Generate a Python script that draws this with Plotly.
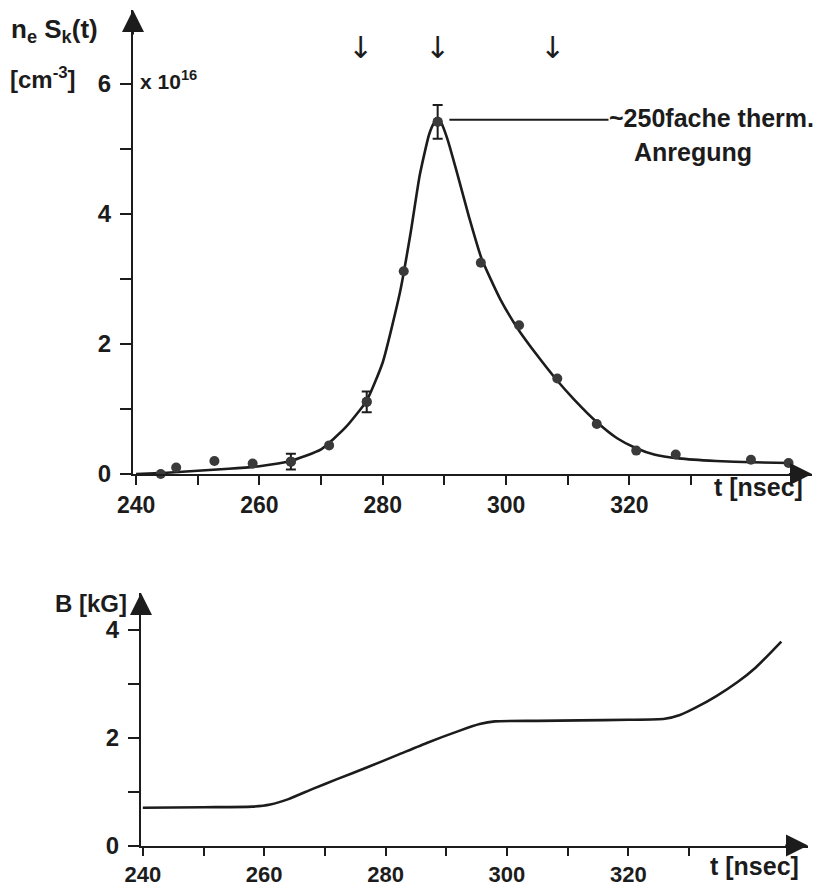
import plotly.graph_objects as go

W, H = 831, 887

# ---------------- data: top panel (n_e S_k(t), units 1e16 cm^-3) ----------------
meas_t = [244.0, 246.5, 252.7, 255.9, 258.9, 265.1, 271.3, 277.4, 283.4, 288.9,
          295.9, 302.1, 308.3, 314.7, 321.1, 327.5, 333.6, 339.7, 345.8]
meas_v = [0.00, 0.10, 0.20, -0.08, 0.16, 0.19, 0.44, 1.11, 3.12, 5.42,
          3.25, 2.29, 1.47, 0.77, 0.36, 0.30, -0.08, 0.22, 0.17]

err_t = [265.1, 277.4, 288.9]
err_v = [0.19, 1.11, 5.42]
err_e = [0.12, 0.16, 0.26]

fit_t = [240, 245, 250, 255, 260, 265, 270, 274, 277.4, 280, 282.8, 284.5, 286,
         287.5, 288.3, 288.9, 289.5, 290.5, 292, 294, 296, 299, 302, 305, 308, 311,
         314.7, 318, 321, 324, 328, 334, 340, 346]
fit_v = [0.0, 0.02, 0.05, 0.08, 0.12, 0.2, 0.38, 0.72, 1.13, 1.72, 2.8, 3.7, 4.6,
         5.22, 5.4, 5.46, 5.4, 5.15, 4.65, 3.95, 3.32, 2.7, 2.22, 1.83, 1.47, 1.15,
         0.8, 0.55, 0.4, 0.3, 0.24, 0.2, 0.18, 0.17]

marker_arrow_t = [276.4, 288.8, 307.5]
peak_label_line_t = [290.8, 316.6]
peak_label_v = 5.45

# ---------------- data: bottom panel (B in kG) ----------------
b_t = [240, 250, 258, 261, 264, 268, 272, 277, 282, 287, 292, 295.5, 298, 305,
       312, 320, 326, 328.5, 331, 334.5, 338, 341, 345.2]
b_v = [0.70, 0.71, 0.72, 0.76, 0.86, 1.05, 1.23, 1.45, 1.68, 1.91, 2.12, 2.25,
       2.30, 2.31, 2.32, 2.33, 2.35, 2.42, 2.55, 2.77, 3.03, 3.30, 3.78]

x_major = [240, 260, 280, 300, 320]
x_minor = [250, 270, 290, 310, 330]
top_y_major = [0, 2, 4, 6]
top_y_minor = [1, 3, 5]
bot_y_major = [0, 2, 4]
bot_y_minor = [1, 3]

# ---------------- styling ----------------
INK = "#1c1c1c"
DOT = "#3a3a3a"
FONT = "Liberation Sans"
FS = 24

TOP_X0, TOP_X1 = 239.5, 349.6
TOP_YMAX = 7.14
BOT_X0, BOT_X1 = 239.7, 349.6
BOT_YMAX = 4.68


def px(x):
    return x / W


def py(y):
    return 1 - y / H


fig = go.Figure()

fig.add_trace(go.Scatter(x=fit_t, y=fit_v, mode="lines", line=dict(color=INK, width=2.6, shape="spline", smoothing=0.5),
                         xaxis="x", yaxis="y", hoverinfo="skip"))
fig.add_trace(go.Scatter(x=meas_t, y=meas_v, mode="markers", marker=dict(color=DOT, size=10),
                         cliponaxis=False, xaxis="x", yaxis="y"))
fig.add_trace(go.Scatter(x=err_t, y=err_v, mode="markers", marker=dict(color=DOT, size=10),
                         error_y=dict(type="data", array=err_e, visible=True, color=INK, thickness=2, width=5),
                         cliponaxis=False, xaxis="x", yaxis="y"))
fig.add_trace(go.Scatter(x=peak_label_line_t, y=[peak_label_v, peak_label_v], mode="lines",
                         line=dict(color=INK, width=2), xaxis="x", yaxis="y"))

fig.add_trace(go.Scatter(x=b_t, y=b_v, mode="lines", line=dict(color=INK, width=2.6, shape="spline", smoothing=0.6),
                         xaxis="x2", yaxis="y2"))


def axis(tickvals, minorvals, ticklen, fontsize, standoff):
    return dict(showgrid=False, zeroline=False, showline=True, linecolor=INK, linewidth=2,
                ticks="outside", tickcolor=INK, tickwidth=2, ticklen=ticklen, automargin=False,
                tickmode="array", tickvals=tickvals, ticklabelstandoff=standoff,
                minor=dict(tickmode="array", tickvals=minorvals, ticks="outside", ticklen=ticklen,
                           tickwidth=2, tickcolor=INK, showgrid=False),
                tickfont=dict(family=FONT, size=fontsize, color=INK, weight="bold"), fixedrange=True)


fig.update_layout(
    width=W, height=H, margin=dict(l=0, r=0, t=0, b=0, autoexpand=False),
    paper_bgcolor="white", plot_bgcolor="white", showlegend=False,
    xaxis=dict(axis(x_major, x_minor, 9, 23, 0), domain=[px(133), px(812)], range=[TOP_X0, TOP_X1], anchor="y"),
    yaxis=dict(axis(top_y_major, top_y_minor, 11, FS, 4), domain=[py(474), py(10)], range=[0, TOP_YMAX], anchor="x"),
    xaxis2=dict(axis(x_major, x_minor, 8, 22, 0), domain=[px(141), px(808)], range=[BOT_X0, BOT_X1], anchor="y2"),
    yaxis2=dict(axis(bot_y_major, bot_y_minor, 11, FS, 4), domain=[py(845.5), py(593)], range=[0, BOT_YMAX], anchor="x2"),
)

ann = []
# axis arrowheads
for xa, ya, x0, x1, ymax in [("x", "y", TOP_X0, TOP_X1, TOP_YMAX), ("x2", "y2", BOT_X0, BOT_X1, BOT_YMAX)]:
    ann.append(dict(x=x1, y=0, ax=x1 - 4, ay=0, xref=xa, yref=ya, axref=xa, ayref=ya, text="",
                    showarrow=True, arrowhead=2, arrowsize=2.2, arrowwidth=2, arrowcolor=INK))
    ann.append(dict(x=x0, y=ymax, ax=x0, ay=ymax - 0.4, xref=xa, yref=ya, axref=xa, ayref=ya, text="",
                    showarrow=True, arrowhead=2, arrowsize=2.2, arrowwidth=2, arrowcolor=INK))

# down arrows
for t in marker_arrow_t:
    ann.append(dict(x=t, y=(474 - 47) / 65, xref="x", yref="y", text="↓", showarrow=False,
                    font=dict(family="DejaVu Sans", size=30, color=INK)))


def label(text, x, y, xanchor="left", size=FS):
    ann.append(dict(x=px(x), y=py(y), xref="paper", yref="paper", text=text, showarrow=False,
                    xanchor=xanchor, yanchor="middle",
                    font=dict(family=FONT, size=size, color=INK, weight="bold")))


label("n<sub>e</sub> S<sub>k</sub>(t)", 9, 30, size=26)
label("[cm<sup>-3</sup>]", 8, 78)
label("x 10<sup>16</sup>", 138, 80, size=21)
label("~250fache therm.", 607, 118, size=25)
label("Anregung", 632, 152, size=25)
label("t [nsec]", 712, 487, size=25)
label("B [kG]", 53, 603)
label("t [nsec]", 708, 866, size=25)

fig.update_layout(annotations=ann)

fig.write_html("out.html")
